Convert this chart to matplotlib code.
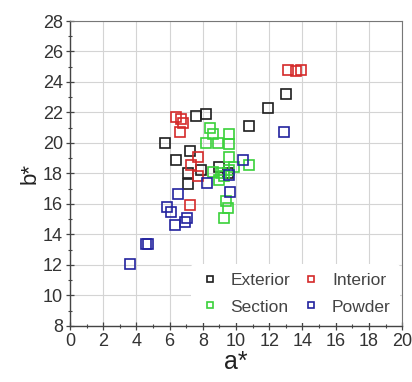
import matplotlib
matplotlib.use("Agg")
import matplotlib.pyplot as plt
from matplotlib.ticker import MultipleLocator

plt.rcParams['font.family'] = ['Liberation Sans', 'DejaVu Sans']

# CIELAB chromaticity coordinates (a*, b*) per sample group
exterior_a = [13.0, 11.9, 10.8, 7.6, 8.2, 5.7, 7.2, 6.4, 7.1, 7.9, 9.0, 7.1, 9.5]
exterior_b = [23.2, 22.3, 21.1, 21.8, 21.9, 20.0, 19.5, 18.9, 18.0, 18.2, 18.4, 17.3, 18.0]

interior_a = [13.1, 13.6, 13.9, 6.4, 6.7, 6.8, 6.65, 7.7, 7.3, 7.7, 7.2]
interior_b = [24.8, 24.75, 24.8, 21.7, 21.6, 21.3, 20.75, 19.1, 18.55, 17.85, 15.9]

section_a = [8.4, 8.6, 9.6, 8.2, 8.9, 9.6, 9.6, 10.8, 9.9, 8.6, 9.1, 9.6, 9.3, 9.0, 9.4, 9.5, 9.25]
section_b = [21.0, 20.6, 20.6, 20.0, 20.0, 19.9, 19.1, 18.55, 18.45, 18.1, 18.05, 18.25, 17.85, 17.6, 16.2, 15.7, 15.05]

powder_a = [12.9, 10.4, 9.6, 8.25, 9.65, 6.5, 5.85, 6.1, 7.05, 6.9, 6.3, 4.7, 4.55, 3.6]
powder_b = [20.75, 18.85, 17.9, 17.4, 16.8, 16.65, 15.8, 15.5, 15.05, 14.8, 14.6, 13.4, 13.4, 12.05]

series = [
    ("Exterior", exterior_a, exterior_b, "#1e1e1e"),
    ("Interior", interior_a, interior_b, "#d42a2a"),
    ("Section", section_a, section_b, "#3ad13a"),
    ("Powder", powder_a, powder_b, "#23239e"),
]

fig = plt.figure(figsize=(4.12, 3.82), dpi=100)
ax = fig.add_axes([0.170, 0.147, 0.806, 0.798])

handles = {}
for name, xs, ys, col in series:
    (h,) = ax.plot(xs, ys, linestyle="none", marker="s", markersize=7,
                   markerfacecolor="none", markeredgecolor=col,
                   markeredgewidth=1.2, label=name)
    handles[name] = h

ax.set_xlim(0, 20)
ax.set_ylim(8, 28)
ax.xaxis.set_major_locator(MultipleLocator(2))
ax.xaxis.set_minor_locator(MultipleLocator(1))
ax.yaxis.set_major_locator(MultipleLocator(2))
ax.yaxis.set_minor_locator(MultipleLocator(1))

ax.grid(True, which="major", color="#d4d4d4", linewidth=0.8)
ax.set_axisbelow(True)

axis_col = "#444444"
for sp in ax.spines.values():
    sp.set_color("#777777")
    sp.set_linewidth(0.8)
ax.spines["left"].set_color(axis_col)
ax.spines["bottom"].set_color(axis_col)
ax.spines["left"].set_linewidth(1.0)
ax.spines["bottom"].set_linewidth(1.0)

ax.tick_params(which="major", direction="inout", length=6, width=0.9,
               colors=axis_col, labelsize=13, labelcolor="#333333", pad=2)
ax.tick_params(which="minor", direction="inout", length=3, width=0.8,
               colors=axis_col)

ax.set_xlabel("a*", fontsize=18, color="#222222", labelpad=0)
ax.set_ylabel("b*", fontsize=16, color="#222222", labelpad=2)

# two-column legend laid out row-wise: Exterior/Interior, Section/Powder
order = ["Exterior", "Section", "Interior", "Powder"]
leg = ax.legend([handles[n] for n in order], order,
                loc="lower right", ncol=2, fontsize=12.5, markerscale=0.6,
                frameon=True, facecolor="white", edgecolor="none",
                framealpha=1.0, borderpad=0.5, handletextpad=0.6,
                columnspacing=0.6, labelspacing=0.65, handlelength=1.2,
                borderaxespad=0.15)
for t in leg.get_texts():
    t.set_color("#444444")

fig.savefig("out.png", dpi=100)
